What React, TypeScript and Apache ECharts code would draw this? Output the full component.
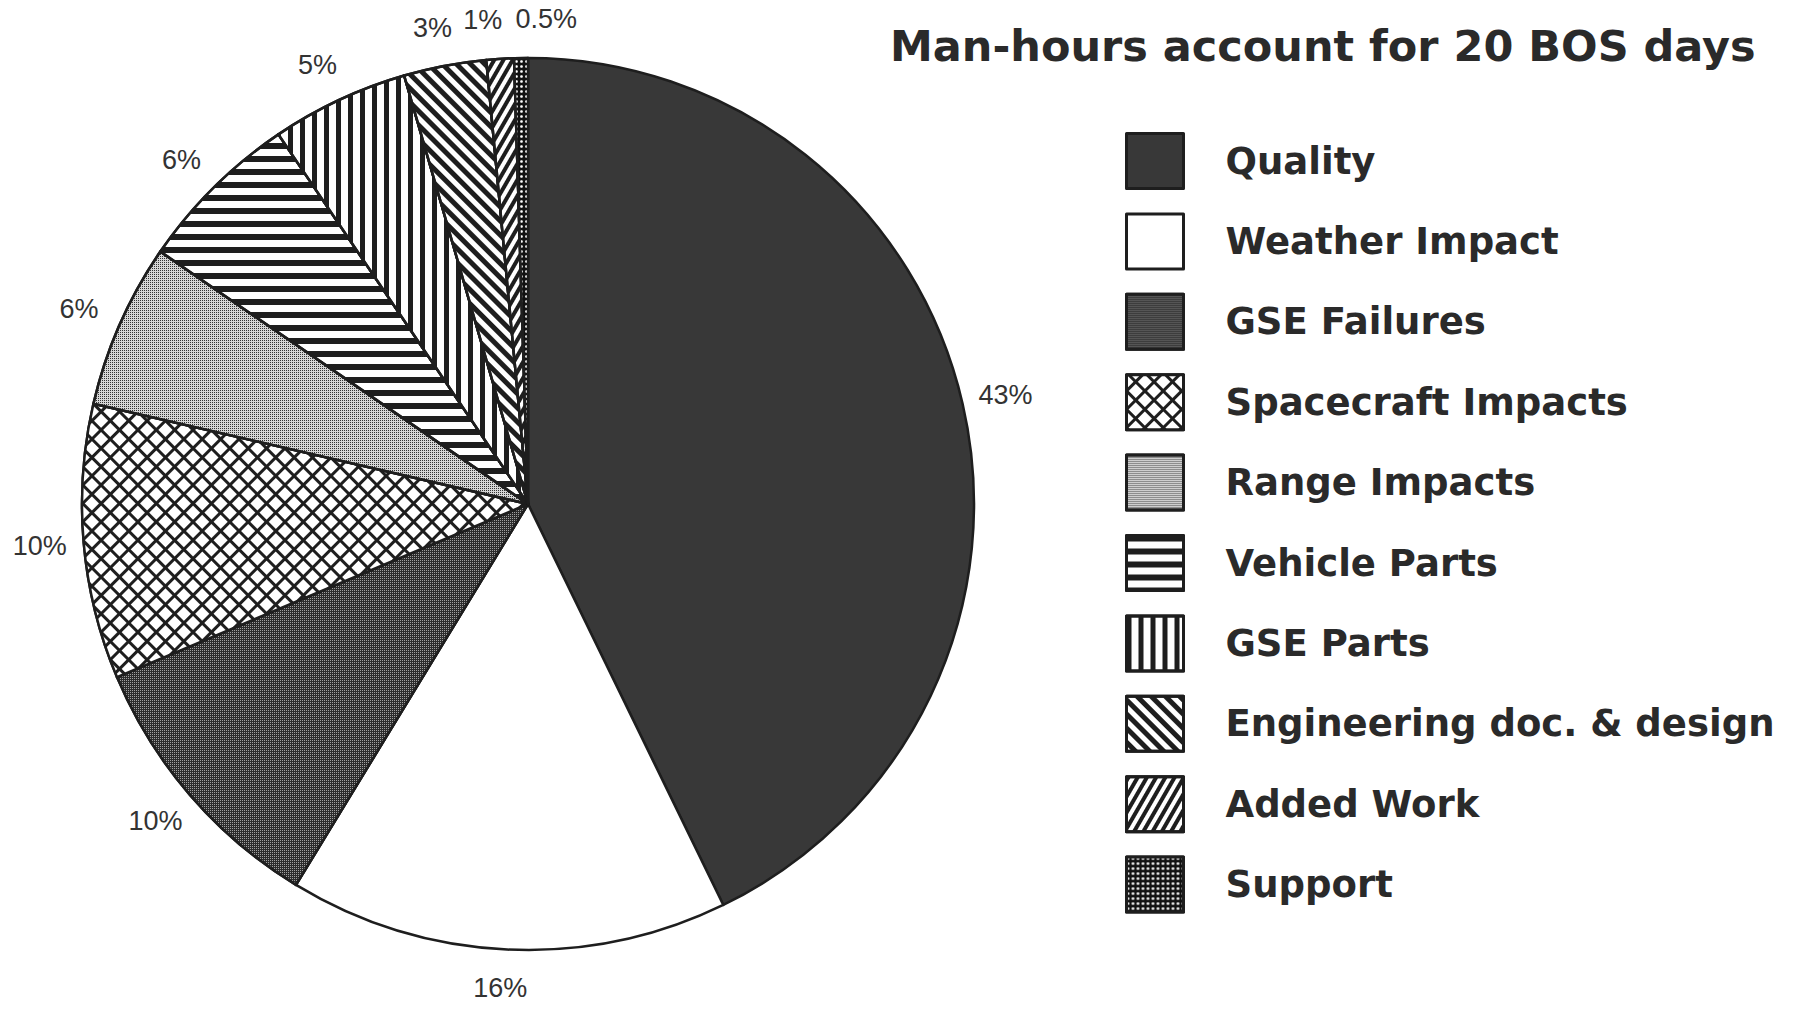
import React, { useEffect, useRef } from "react";
import * as echarts from "echarts";

const titleText = "Man-hours account for 20 BOS days";
const categories = [
  "Quality",
  "Weather Impact",
  "GSE Failures",
  "Spacecraft Impacts",
  "Range Impacts",
  "Vehicle Parts",
  "GSE Parts",
  "Engineering doc. & design",
  "Added Work",
  "Support",
];
const percentValues = [43, 16, 10, 10, 6, 6, 5, 3, 1, 0.5];

const INK = "#1e1e1e";

// Fill colour is the pattern background; decal draws the marks on top of it.
const sliceStyles: any[] = [
  { color: "#383838" },
  { color: "#ffffff" },
  {
    color: "#2c2c2c",
    decal: { symbol: "rect", symbolSize: 1, color: "#a0a0a0", dashArrayX: [1, 1], dashArrayY: [1, 1] },
  },
  {
    color: INK,
    decal: { symbol: "rect", symbolSize: 1, color: "#ffffff", dashArrayX: [9.5, 2.5], dashArrayY: [9.5, 2.5], rotation: Math.PI / 4 },
  },
  {
    color: "#d6d6d6",
    decal: { symbol: "rect", symbolSize: 1, color: "#333333", dashArrayX: [1, 1], dashArrayY: [1, 1] },
  },
  {
    color: "#ffffff",
    decal: { symbol: "rect", symbolSize: 1, color: INK, dashArrayX: [1, 0], dashArrayY: [6, 7] },
  },
  {
    color: "#ffffff",
    decal: { symbol: "rect", symbolSize: 1, color: INK, dashArrayX: [4.5, 6.5], dashArrayY: [1, 0] },
  },
  {
    color: "#ffffff",
    decal: { symbol: "rect", symbolSize: 1, color: INK, dashArrayX: [1, 0], dashArrayY: [5, 5], rotation: Math.PI / 4 },
  },
  {
    color: "#ffffff",
    decal: { symbol: "rect", symbolSize: 1, color: INK, dashArrayX: [1, 0], dashArrayY: [4, 4], rotation: -Math.PI / 3 },
  },
  {
    color: "#111111",
    decal: { symbol: "circle", symbolSize: 0.9, color: "#ffffff", dashArrayX: [3, 1.5], dashArrayY: [3, 1.5] },
  },
];

export default function App() {
  const ref = useRef<HTMLDivElement>(null);

  useEffect(() => {
    if (!ref.current) return;
    const chart = echarts.init(ref.current, null, { renderer: "svg" });
    const data = categories.map((name, i) => ({
      name,
      value: percentValues[i],
      itemStyle: sliceStyles[i],
    }));
    const last = percentValues.length - 1;
    chart.setOption({
      animation: false,
      backgroundColor: "#ffffff",
      title: {
        text: titleText,
        left: 890,
        top: 24,
        padding: 0,
        textStyle: {
          fontFamily: "DejaVu Sans",
          fontWeight: "bold",
          fontSize: 43,
          color: "#2a2a2a",
        },
      },
      legend: {
        orient: "vertical",
        left: 1125,
        top: 132,
        padding: 0,
        icon: "rect",
        itemWidth: 57,
        itemHeight: 55,
        itemGap: 22.4,
        selectedMode: false,
        itemStyle: { borderColor: INK, borderWidth: 3 },
        textStyle: {
          fontFamily: "DejaVu Sans",
          fontWeight: "bold",
          fontSize: 37,
          color: "#2a2a2a",
          padding: [6, 0, 0, 37],
        },
        data: categories,
      },
      series: [
        {
          type: "pie",
          center: [528, 504],
          radius: 446,
          startAngle: 90,
          clockwise: true,
          avoidLabelOverlap: false,
          minShowLabelAngle: 0,
          itemStyle: { borderColor: INK, borderWidth: 2.5 },
          label: {
            show: true,
            position: "outside",
            formatter: "{c}%",
            fontFamily: "Liberation Sans",
            fontSize: 27,
            color: "#333333",
            distanceToLabelLine: 5,
          },
          labelLine: { show: false, length: 39, length2: 0 },
          labelLayout: (params: any) =>
            params.dataIndex === last
              ? { align: "left" }
              : params.dataIndex === last - 1
              ? { align: "center", dx: -10 }
              : { align: "center" },
          emphasis: { disabled: true },
          data,
        },
      ],
    });
    return () => chart.dispose();
  }, []);

  return (
    <div
      ref={ref}
      style={{ position: "fixed", left: 0, top: 0, width: 1796, height: 1009 }}
    />
  );
}
